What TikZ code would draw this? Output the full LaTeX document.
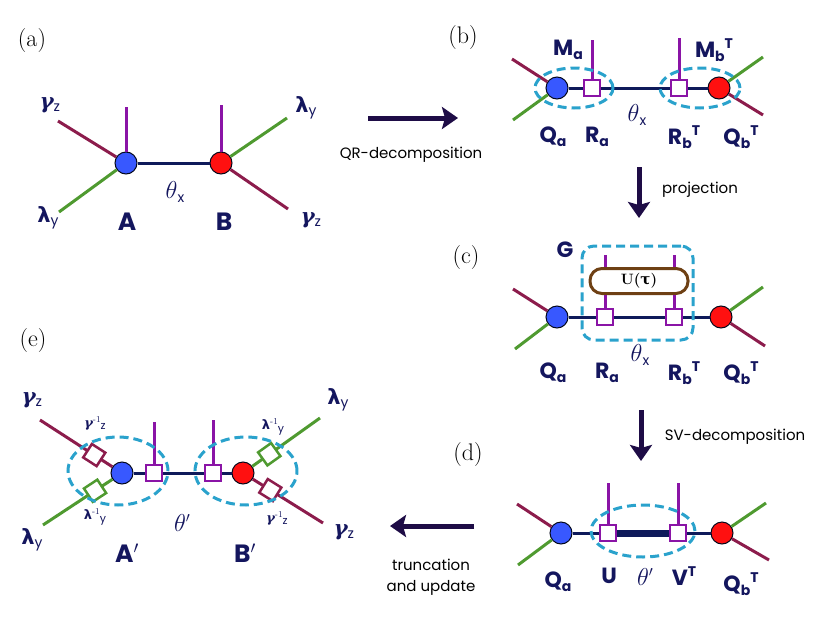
\documentclass[tikz,border=0pt]{standalone}
\usepackage{amsmath,amssymb,graphicx}
\usepackage{fontspec}
\newfontfamily\lblfont{Poppins}
\newfontfamily\grkfont{DejaVu Sans}
\newfontfamily\grkserif{DejaVu Serif}
\usetikzlibrary{arrows.meta,positioning,shapes.geometric}

\definecolor{ink}{HTML}{14165E}
\definecolor{bondc}{HTML}{0E1A5A}
\definecolor{legr}{HTML}{8C1C4C}
\definecolor{legg}{HTML}{4F9A30}
\definecolor{legp}{HTML}{8A14A6}
\definecolor{siteb}{HTML}{3858FF}
\definecolor{siter}{HTML}{FF1010}
\definecolor{cutc}{HTML}{2AA2CC}
\definecolor{gatec}{HTML}{6E4014}
\definecolor{stepc}{HTML}{1E0C46}

\newcommand{\lsub}[1]{\raisebox{-0.35ex}{\lblfont\fontsize{14}{14}\selectfont #1}}
\newcommand{\lsup}[1]{\raisebox{0.75ex}{\lblfont\fontsize{14}{14}\selectfont #1}}
\newcommand{\bondth}{\resizebox{!}{17pt}{$\theta$}}
\newcommand{\bondthp}{\resizebox{!}{17pt}{$\theta$}\raisebox{9pt}{\resizebox{!}{8pt}{$\prime$}}}
\newcommand{\gz}{{\grkserif\bfseries\itshape\fontsize{21}{22}\selectfont γ}\lsub{z}}
\newcommand{\ly}{{\grkfont\bfseries\fontsize{21}{22}\selectfont λ}\lsub{y}}
\newcommand{\ginv}{{\grkserif\bfseries\itshape\fontsize{13}{14}\selectfont γ}\raisebox{0.8ex}{\fontsize{9}{9}\selectfont -1}\raisebox{-0.4ex}{\lblfont\fontsize{11}{11}\selectfont z}}
\newcommand{\linv}{{\grkfont\bfseries\fontsize{13}{14}\selectfont λ}\raisebox{0.8ex}{\fontsize{9}{9}\selectfont -1}\raisebox{-0.4ex}{\lblfont\fontsize{11}{11}\selectfont y}}

\begin{document}
\begin{tikzpicture}[
  x=1pt,y=-1pt,
  site/.style={circle,draw=black!70!bondc,line width=1pt,minimum size=22pt,inner sep=0pt},
  qsite/.style={site,fill=siteb},
  rsite/.style={site,fill=siter},
  mat/.style={rectangle,draw=legp,line width=2pt,fill=white,minimum size=16pt,inner sep=0pt},
  dia/.style={rectangle,line width=2.5pt,fill=white,minimum size=16pt,inner sep=0pt,sloped,pos=0.25},
  bond/.style={draw=bondc,line width=3pt},
  rleg/.style={draw=legr,line width=3pt},
  gleg/.style={draw=legg,line width=3pt},
  pleg/.style={draw=legp,line width=3pt},
  cut/.style={draw=cutc,line width=3pt,dash pattern=on 9pt off 5pt},
  gate/.style={draw=gatec,line width=3pt,rounded corners=12pt,fill=white,minimum width=98pt,minimum height=25pt,font={\fontsize{15}{16}\selectfont}},
  lbl/.style={text=ink,font={\lblfont\bfseries\fontsize{22}{24}\selectfont},inner sep=0pt},
  grk/.style={text=ink,font={\fontsize{22}{24}\selectfont},inner sep=0pt},
  small/.style={text=ink,font={\fontsize{14}{15}\selectfont},inner sep=0pt},
  tag/.style={font={\fontsize{24}{26}\selectfont},inner sep=0pt},
  note/.style={font={\lblfont\fontsize{15}{17}\selectfont},inner sep=0pt},
  stepto/.style={draw=stepc,line width=5pt,-{Stealth[length=16pt,width=22pt,inset=3pt]}}
]
\useasboundingbox (0,0) rectangle (830,624);

% (a) two-site unit
\node[tag] (tag-a) at (32,41) {(a)};
\node[qsite] (a) at (126,163) {};
\node[rsite] (b) at (221,163) {};
\coordinate (a-nw) at (58,121);
\coordinate (a-sw) at (59,212);
\coordinate (a-up) at (126,107);
\coordinate (b-ne) at (287,118);
\coordinate (b-se) at (288,209);
\coordinate (b-up) at (221,105);
\draw[rleg] (a) -- (a-nw);
\draw[gleg] (a) -- (a-sw);
\draw[pleg] (a) -- (a-up);
\draw[gleg] (b) -- (b-ne);
\draw[rleg] (b) -- (b-se);
\draw[pleg] (b) -- (b-up);
\draw[bond] (a) -- (b);
\node[grk] (a-gz) at (50,105) {\gz};
\node[grk] (a-ly) at (48,218) {\ly};
\node[grk] (b-ly) at (306,108) {\ly};
\node[grk] (b-gz) at (311,220) {\gz};
\node[grk] (a-th) at (175,192) {\bondth\lsub{x}};
\node[lbl,font={\lblfont\bfseries\fontsize{25}{26}\selectfont}] (a-lbl) at (127,222) {A};
\node[lbl,font={\lblfont\bfseries\fontsize{25}{26}\selectfont}] (b-lbl) at (224,222) {B};

% QR step
\coordinate (qr-from) at (368,118);
\coordinate (qr-to) at (458,118);
\draw[stepto] (qr-from) -- (qr-to);
\node[note] (qr-lbl) at (411,155) {QR-decomposition};

% (b) QR factors
\node[tag] (tag-b) at (463,38) {(b)};
\node[qsite] (bqa) at (557,88) {};
\node[mat] (bra) at (592,88) {};
\node[mat] (brb) at (679,88) {};
\node[rsite] (bqb) at (719,88) {};
\coordinate (bqa-nw) at (512,59);
\coordinate (bqa-sw) at (513,120);
\coordinate (bqb-ne) at (763,57);
\coordinate (bqb-se) at (763,115);
\coordinate (bra-up) at (592,40);
\coordinate (brb-up) at (679,38);
\draw[rleg] (bqa) -- (bqa-nw);
\draw[gleg] (bqa) -- (bqa-sw);
\draw[gleg] (bqb) -- (bqb-ne);
\draw[rleg] (bqb) -- (bqb-se);
\draw[pleg] (bra) -- (bra-up);
\draw[pleg] (brb) -- (brb-up);
\draw[bond] (bqa) -- (bra);
\draw[bond] (bra) -- (brb);
\draw[bond] (brb) -- (bqb);
\node[cut,ellipse,minimum width=78pt,minimum height=40pt] (b-cut-l) at (574,88) {};
\node[cut,ellipse,minimum width=80pt,minimum height=40pt] (b-cut-r) at (700,88) {};
\node[lbl] (bma) at (568,50) {M\lsub{a}};
\node[lbl] (bmb) at (714,50) {M\lsub{b}\lsup{T}};
\node[lbl] (bqa-lbl) at (553,137) {Q\lsub{a}};
\node[lbl] (bra-lbl) at (597,137) {R\lsub{a}};
\node[grk] (b-th) at (637,115) {\bondth\lsub{x}};
\node[lbl] (brb-lbl) at (684,137) {R\lsub{b}\lsup{T}};
\node[lbl] (bqb-lbl) at (741,137) {Q\lsub{b}\lsup{T}};

% projection step
\coordinate (pj-from) at (639,167);
\coordinate (pj-to) at (639,218);
\draw[stepto] (pj-from) -- (pj-to);
\node[note] (pj-lbl) at (700,190) {projection};

% (c) gate applied
\node[tag] (tag-c) at (466,258) {(c)};
\node[qsite] (cqa) at (557,317) {};
\node[mat] (cra) at (605,317) {};
\node[mat] (crb) at (674,317) {};
\node[rsite] (cqb) at (721,317) {};
\node[gate] (cu) at (639,281) {\textbf{U(}{\grkserif\bfseries τ}\textbf{)}};
\coordinate (cqa-nw) at (513,289);
\coordinate (cqa-sw) at (515,349);
\coordinate (cqb-ne) at (763,287);
\coordinate (cqb-se) at (765,346);
\coordinate (cra-up) at (605,255);
\coordinate (crb-up) at (674,255);
\draw[rleg] (cqa) -- (cqa-nw);
\draw[gleg] (cqa) -- (cqa-sw);
\draw[gleg] (cqb) -- (cqb-ne);
\draw[rleg] (cqb) -- (cqb-se);
\draw[pleg] (cra) -- (cu.south -| cra);
\draw[pleg] (crb) -- (cu.south -| crb);
\draw[pleg] (cu.north -| cra) -- (cra-up);
\draw[pleg] (cu.north -| crb) -- (crb-up);
\draw[bond] (cqa) -- (cra);
\draw[bond] (cra) -- (crb);
\draw[bond] (crb) -- (cqb);
\node[cut,rounded corners=12pt,minimum width=111pt,minimum height=94pt] (cg) at (637.5,293) {};
\node[lbl] (cg-lbl) at (565,250) {G};
\node[lbl] (cqa-lbl) at (553,373) {Q\lsub{a}};
\node[lbl] (cra-lbl) at (607,373) {R\lsub{a}};
\node[grk] (c-th) at (640,355) {\bondth\lsub{x}};
\node[lbl] (crb-lbl) at (684,373) {R\lsub{b}\lsup{T}};
\node[lbl] (cqb-lbl) at (741,373) {Q\lsub{b}\lsup{T}};

% SV step
\coordinate (sv-from) at (641,410);
\coordinate (sv-to) at (641,461);
\draw[stepto] (sv-from) -- (sv-to);
\node[note] (sv-lbl) at (735,437) {SV-decomposition};

% (d) SVD factors
\node[tag] (tag-d) at (468,455) {(d)};
\node[qsite] (dqa) at (561,533) {};
\node[mat] (du) at (608,533) {};
\node[mat] (dv) at (678,533) {};
\node[rsite] (dqb) at (722,533) {};
\coordinate (dqa-nw) at (517,504);
\coordinate (dqa-sw) at (518,565);
\coordinate (dqb-ne) at (766,503);
\coordinate (dqb-se) at (769,560);
\coordinate (du-up) at (608,483);
\coordinate (dv-up) at (678,483);
\draw[rleg] (dqa) -- (dqa-nw);
\draw[gleg] (dqa) -- (dqa-sw);
\draw[gleg] (dqb) -- (dqb-ne);
\draw[rleg] (dqb) -- (dqb-se);
\draw[pleg] (du) -- (du-up);
\draw[pleg] (dv) -- (dv-up);
\draw[bond] (dqa) -- (du);
\draw[bond,line width=7pt] (du) -- (dv);
\draw[bond] (dv) -- (dqb);
\node[cut,ellipse,minimum width=104pt,minimum height=52pt] (d-cut) at (643,531) {};
\node[lbl] (dqa-lbl) at (558,582) {Q\lsub{a}};
\node[lbl] (du-lbl) at (609,576) {U};
\node[grk] (d-th) at (645,577) {\bondthp};
\node[lbl] (dv-lbl) at (684,576) {V\lsup{T}};
\node[lbl] (dqb-lbl) at (741,584) {Q\lsub{b}\lsup{T}};

% truncation step
\coordinate (tr-from) at (474,526);
\coordinate (tr-to) at (390,526);
\draw[stepto] (tr-from) -- (tr-to);
\node[note] (tr-lbl) at (431,565) {truncation};
\node[note,below=9pt of tr-lbl] (tr-lbl2) {and update};

% (e) updated tensors
\node[tag] (tag-e) at (33,341) {(e)};
\node[qsite] (eap) at (122,473) {};
\node[mat] (eu) at (154,473) {};
\node[mat] (ev) at (213,473) {};
\node[rsite] (ebp) at (243,473) {};
\coordinate (e-nw) at (40,420);
\coordinate (e-sw) at (43,525);
\coordinate (e-ne) at (320,418);
\coordinate (e-se) at (323,523);
\coordinate (eu-up) at (154,422);
\coordinate (ev-up) at (213,420);
\draw[rleg] (eap) -- node[dia,draw=legr] (eg-l) {} (e-nw);
\draw[gleg] (eap) -- node[dia,draw=legg] (el-l) {} (e-sw);
\draw[gleg] (ebp) -- node[dia,draw=legg] (el-r) {} (e-ne);
\draw[rleg] (ebp) -- node[dia,draw=legr] (eg-r) {} (e-se);
\draw[pleg] (eu) -- (eu-up);
\draw[pleg] (ev) -- (ev-up);
\draw[bond] (eap) -- (eu);
\draw[bond] (eu) -- (ev);
\draw[bond] (ev) -- (ebp);
\node[cut,ellipse,minimum width=100pt,minimum height=68pt] (e-cut-l) at (118,471) {};
\node[cut,ellipse,minimum width=102pt,minimum height=68pt] (e-cut-r) at (246,471) {};
\node[grk] (e-gz-l) at (32,400) {\gz};
\node[grk] (e-ly-l) at (32,540) {\ly};
\node[grk] (e-ly-r) at (338,400) {\ly};
\node[grk] (e-gz-r) at (344,532) {\gz};
\node[small] (eg-l-lbl) at (95,423) {\ginv};
\node[small] (el-l-lbl) at (95,517) {\linv};
\node[small] (el-r-lbl) at (273,427) {\linv};
\node[small] (eg-r-lbl) at (277,518) {\ginv};
\node[grk] (e-th) at (182,523) {\bondthp};
\node[lbl,font={\lblfont\bfseries\fontsize{25}{26}\selectfont}] (ea-lbl) at (127,553) {A$'$};
\node[lbl,font={\lblfont\bfseries\fontsize{25}{26}\selectfont}] (eb-lbl) at (245,553) {B$'$};
\end{tikzpicture}
\end{document}
